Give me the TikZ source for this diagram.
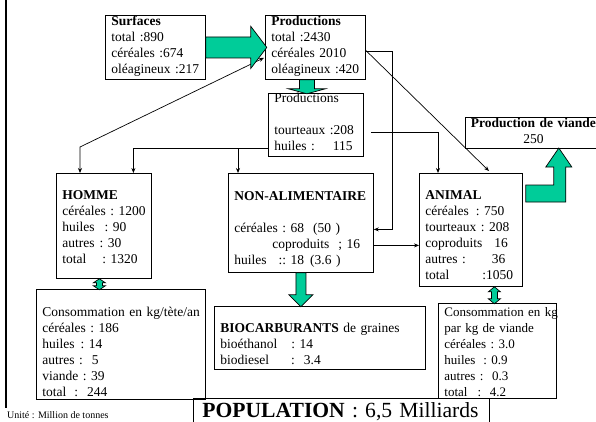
\documentclass[tikz,border=0pt]{standalone}
\usepackage{fontspec}
\setmainfont{Liberation Serif}
\usepackage{xcolor}
\usetikzlibrary{arrows.meta, calc}

\definecolor{fatgreen}{RGB}{0,204,153}
\newcommand{\boxfont}{\fontsize{13.5}{16}\selectfont}

\begin{document}
\begin{tikzpicture}[x=1pt, y=-1pt, >={Stealth[length=5pt, width=4pt]}]
\tikzset{box/.style={draw, line width=0.8pt, anchor=north west, inner xsep=6pt, inner ysep=0pt, align=left, font=\boxfont}}
\tikzset{conn/.style={line width=0.7pt, ->}}
\tikzset{fat/.style={draw, line width=0.7pt, fill=fatgreen, line join=miter}}

\useasboundingbox (0,0) rectangle (596,421);

% left rule
\draw[line width=2.4pt] (6.2,0) -- (6.2,408);

% top row
\node (surf) [box, text width=88pt, text height=10pt, text depth=54pt] at (105,15)
  {\textbf{Surfaces}\\total~:890\\céréales~:674\\oléagineux~:217};
\node (prod) [box, text width=88pt, text height=10pt, text depth=54pt] at (265,15)
  {\textbf{Productions}\\total~:2430\\céréales~2010\\oléagineux~:420};
\node (prod2) [box, text width=83pt, text height=9.5pt, text depth=53.5pt] at (268,93)
  {Productions\\[16pt]tourteaux~:208\\huiles~:\kern18pt115};
\node (viande) [box, align=center, inner xsep=4pt, text width=128pt, text height=10pt, text depth=21pt] at (465,117)
  {\textbf{Production~de~viande}\\250};

% uses
\node (homme) [box, text width=83pt, text height=26.5pt, text depth=78.5pt] at (56,173)
  {\textbf{HOMME}\\céréales~:~1200\\huiles\kern10pt:~90\\autres\kern5pt:~30\\total\kern16pt:~1320};
\node (nonalim) [box, text width=133pt, text height=27pt, text depth=72pt] at (228,173)
  {\textbf{NON-ALIMENTAIRE}\\[16pt]céréales~:~68\kern9pt(50~)\\\hspace*{38pt}coproduits\kern9pt;~16\\huiles\kern12pt::~18\kern6pt(3.6~)};
\node (animal) [box, text width=91pt, text height=26pt, text depth=87pt] at (419,173)
  {\textbf{ANIMAL}\\céréales\kern7pt:~750\\tourteaux~:~208\\coproduits\kern12pt16\\autres~:\kern26pt36\\total\kern33pt:1050};

% bottom row
\node (conshomme) [box, text width=157pt, text height=27pt, text depth=83pt] at (36,289)
  {Consommation~en~kg/tète/an\\céréales~:~186\\huiles\kern6pt:~14\\autres~:~~5\\viande~:~39\\total\kern8pt:~~244};
\node (biocarb) [box, text width=199pt, text height=26pt, text depth=37pt] at (214,306)
  {\textbf{BIOCARBURANTS}~de~graines\\bioéthanol\kern14pt:~14\\biodiesel\kern22pt:~~3.4};
\node (pop) [box, inner xsep=9pt, text width=278pt, text height=18.7pt, text depth=20pt, font=\fontsize{21.6}{24}\selectfont] at (193,398)
  {\textbf{POPULATION}~:~6,5~Milliards};
\node (consanimal) [box, text width=106pt, text height=13pt, text depth=82pt, font=\fontsize{13}{16}\selectfont] at (438,303)
  {Consommation~en~kg\\par~kg~de~viande\\céréales~:~3.0\\huiles\kern8pt:~0.9\\autres~:~~0.3\\total\kern10pt:~~4.2};

\node (unite) [anchor=base west, inner sep=0pt, font=\fontsize{10}{12}\selectfont] at (7,418.5) {Unité : Million de tonnes};

% thin connectors
\coordinate (hsplit) at ($(prod2.south west)+(0,-8)$);
\coordinate (nain) at ($(nonalim.north west)+(10,0)$);
\draw[conn] (hsplit) -| ($(homme.north)+(29.5,0)$);
\draw[conn] (hsplit -| nain) -- (nain);
\draw[conn] ($(prod2.north east)+(7,39)$) -| ($(animal.north west)+(19,0)$);
\draw[conn] ($(prod.east)+(0,4)$) -| ($(nonalim.east)+(19,6.5)$) -- ($(nonalim.east)+(0,6.5)$);
\draw[conn] ($(prod.east)+(0,3)$) -- ($(animal.north west)+(70,-2)$);
\draw[conn, <->] ($(homme.north west)+(24,0)$) -- +(0,-26) -- ($(prod.south west)+(-1,-22)$);
\draw[conn] ($(nonalim.east)+(0,22.5)$) -- ($(animal.west |- nonalim.east)+(0,22.5)$);

% green arrows
\draw[fat] (surf.east) ++(0,-10.5) -- +(45,0) -- +(45,-10.5) -- +(61,10.5) -- +(45,31.5) -- +(45,21) -- +(0,21) -- cycle;
\draw[fat] (prod.south) ++(-16,0) -- +(0,9) -- +(-11,9) -- +(7.5,14) -- +(26,9) -- +(15,9) -- +(15,0) -- cycle;
\draw[fat] (nonalim.south) ++(-5,0) -- +(0,22) -- +(-7,22) -- +(5,34) -- +(17,22) -- +(10,22) -- +(10,0) -- cycle;
\draw[fat] (homme.south) ++(-4.5,0) -- +(6,4) -- +(3,4) -- +(3,7) -- +(6,7) -- +(0,11) -- +(-6,7) -- +(-3,7) -- +(-3,4) -- +(-6,4) -- cycle;
\draw[fat] ($(animal.south -| consanimal.north)+(-3,0)$) -- +(6,5) -- +(3,5) -- +(3,12) -- +(6,12) -- +(0,17) -- +(-6,12) -- +(-3,12) -- +(-3,5) -- +(-6,5) -- cycle;
\draw[fat] (animal.north east) ++(3,12) -- +(28,0) -- +(28,-18) -- +(20,-18) -- +(33,-37) -- +(46,-18) -- +(40,-18) -- +(40,17) -- +(0,17) -- cycle;

\end{tikzpicture}
\end{document}
